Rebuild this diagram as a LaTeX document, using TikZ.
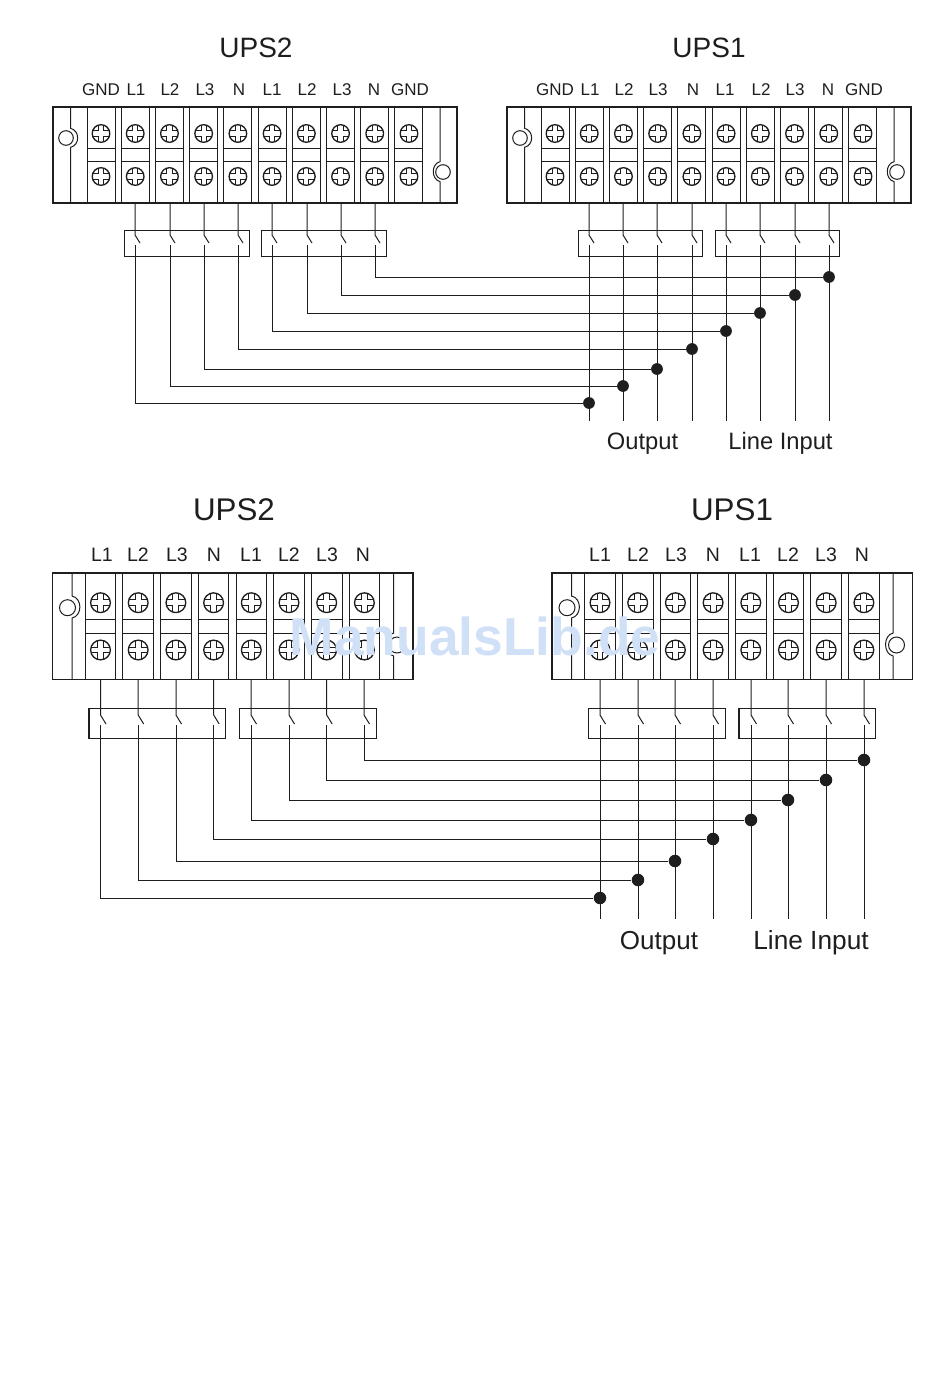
\documentclass[tikz,border=0pt]{standalone}
\usepackage{fontspec}
\setmainfont{Liberation Sans}
\definecolor{inkline}{HTML}{1E1E1E}
\definecolor{markblue}{HTML}{CFE0F7}
\tikzset{
    wire/.style={inkline, line width=.75pt},
    dot/.style={circle, fill=inkline, inner sep=0pt, minimum size=8.8pt},
    swbox/.style={draw=inkline, line width=.8pt, inner sep=0pt},
    txt/.style={inkline, inner sep=0pt},
    screwhead/.pic={
        \draw[inkline, line width=1pt] (0, 0) circle [radius=8.8];
        \foreach \a in {0, 90, 180, 270}
            \draw[inkline, line width=.75pt, rotate=\a] (2.6, 8.4) -- (2.6, 2.6) -- (8.4, 2.6);
    },
    stripten/.pic={
        \draw[inkline, line width=.8pt] (0, 0) rectangle (404, 96);
        \draw[wire] (17.7, 0) -- (17.7, 21.3) .. controls (27, 24) and (27, 38) .. (17.7, 40.3) -- (17.7, 96);
        \draw[wire] (13, 31) circle [radius=7.3];
        \draw[wire] (387, 0) -- (387, 54.7) .. controls (378, 57) and (378, 72) .. (387, 74.7) -- (387, 96);
        \draw[wire] (390, 65) circle [radius=7.3];
        \foreach \i in {0, ..., 9} {
            \begin{scope}[shift={(48 + 34.22*\i, 0)}]
                \draw[wire] (-14, 0) -- (-14, 96);
                \draw[wire] (14, 0) -- (14, 96);
                \draw[wire] (-14, 41.5) -- (14, 41.5);
                \draw[wire] (-14, 54.5) -- (14, 54.5);
                \pic at (0, 26.5) {screwhead};
                \pic at (0, 69.5) {screwhead};
            \end{scope}
        }
    },
    stripeight/.pic={
        \draw[inkline, line width=.9pt] (0, 0) rectangle (360.5, 106.5);
        \draw[wire] (19.5, 0) -- (19.5, 23) .. controls (30, 25) and (30, 43) .. (19.5, 45) -- (19.5, 106.5);
        \draw[wire] (15, 34.7) circle [radius=8];
        \draw[wire] (341.2, 0) -- (341.2, 60) .. controls (331, 62) and (331, 81) .. (341.2, 83) -- (341.2, 106.5);
        \draw[wire] (344.5, 72) circle [radius=8];
        \foreach \i in {0, ..., 7} {
            \begin{scope}[shift={(48 + 37.7*\i, 0)}]
                \draw[wire] (-15.3, 0) -- (-15.3, 106.5);
                \draw[wire] (15.3, 0) -- (15.3, 106.5);
                \draw[wire] (-15.3, 46) -- (15.3, 46);
                \draw[wire] (-15.3, 60.7) -- (15.3, 60.7);
                \pic[scale=1.12] at (0, 29.7) {screwhead};
                \pic[scale=1.12] at (0, 77) {screwhead};
            \end{scope}
        }
    },
}
\begin{document}
\begin{tikzpicture}[x=.75pt, y=-.75pt]
    \useasboundingbox (0, 0) rectangle (950, 1378);

    %% upper pair
    \node[txt, font=\fontsize{21}{21}\selectfont] (titleAtwo) at (256, 48) {UPS2};
    \node[txt, font=\fontsize{21}{21}\selectfont] (titleAone) at (709, 48) {UPS1};
    \foreach \x/\t [count=\i] in {101/GND, 136/L1, 170/L2, 205/L3, 239/N, 272/L1, 307/L2, 342/L3, 374/N, 410/GND,
                                  555/GND, 590/L1, 624/L2, 658/L3, 693/N, 725/L1, 761/L2, 795/L3, 828/N, 864/GND}
        \node[txt, font=\fontsize{12.75}{13}\selectfont] (labA\i) at (\x, 90) {\t};
    \pic at (53, 107) {stripten};
    \pic at (507, 107) {stripten};
    \foreach \x [count=\i] in {187, 324, 640.5, 777.5}
        \node[swbox, minimum width=93.4pt, minimum height=19.5pt] (swA\i) at (\x, 243.5) {};

    \foreach \n/\xa/\xb/\yh in {a/135/589/403, b/170/623/386, c/204/657/369, d/238/692/349,
                                e/272/726/331, f/307/760/313, g/341/795/295, h/375/829/277} {
        \coordinate (\n top) at (\xa, 203);
        \coordinate (\n open) at (\xa, 235);
        \coordinate (\n back) at (\xa, 245);
        \coordinate (\n turn) at (\xa, \yh);
        \node[dot] (\n dot) at (\xb, \yh) {};
        \coordinate (\n pin) at (\xb, 203);
        \coordinate (\n gap) at (\xb, 235);
        \coordinate (\n low) at (\xb, 245);
        \coordinate (\n end) at (\xb, 421);
        \draw[wire] (\n top) -- (\n open) -- ++(5, 8);
        \draw[wire] (\n back) -- (\n turn) -- (\n dot);
        \draw[wire] (\n pin) -- (\n gap) -- ++(5, 8);
        \draw[wire] (\n low) -- (\n end);
    }
    \node[txt, font=\fontsize{17.8}{18}\selectfont] (outA) at (642.5, 444) {Output};
    \node[txt, font=\fontsize{17.8}{18}\selectfont] (lineA) at (780.5, 443) {Line Input};

    %% lower pair
    \node[txt, font=\fontsize{23.5}{24}\selectfont] (titleBtwo) at (234, 510) {UPS2};
    \node[txt, font=\fontsize{23.5}{24}\selectfont] (titleBone) at (732, 510) {UPS1};
    \foreach \x/\t [count=\i] in {102/L1, 138/L2, 177/L3, 214/N, 251/L1, 289/L2, 327/L3, 363/N,
                                  600/L1, 638/L2, 676/L3, 713/N, 750/L1, 788/L2, 826/L3, 862/N}
        \node[txt, font=\fontsize{14.6}{15}\selectfont] (labB\i) at (\x, 555) {\t};
    \pic at (52.5, 573) {stripeight};
    \pic at (552, 573) {stripeight};
    \foreach \x [count=\i] in {157.3, 307.8, 656.8, 807.3}
        \node[swbox, minimum width=102.5pt, minimum height=22pt] (swB\i) at (\x, 723.5) {};

    \foreach \n/\xa/\xb/\yh in {a/100.5/600/898, b/138.2/638/880, c/176/675/861, d/213.7/713/839,
                                e/251/751/820, f/289/788/800, g/326.7/826/780, h/364/864/760} {
        \coordinate (\n topB) at (\xa, 680);
        \coordinate (\n openB) at (\xa, 715);
        \coordinate (\n backB) at (\xa, 725);
        \coordinate (\n turnB) at (\xa, \yh);
        \node[dot, minimum size=9.4pt] (\n dotB) at (\xb, \yh) {};
        \coordinate (\n pinB) at (\xb, 680);
        \coordinate (\n gapB) at (\xb, 715);
        \coordinate (\n lowB) at (\xb, 725);
        \coordinate (\n endB) at (\xb, 919);
        \draw[wire] (\n topB) -- (\n openB) -- ++(5.5, 9);
        \draw[wire] (\n backB) -- (\n turnB) -- (\n dotB);
        \draw[wire] (\n pinB) -- (\n gapB) -- ++(5.5, 9);
        \draw[wire] (\n lowB) -- (\n endB);
    }
    \node[txt, font=\fontsize{19.5}{20}\selectfont] (outB) at (659, 943) {Output};
    \node[txt, font=\fontsize{19.7}{20}\selectfont] (lineB) at (811, 943) {Line Input};

    %% pale mark over both strips
    \node[txt, text=markblue, font=\fontsize{40}{40}\selectfont\bfseries] (mark) at (475, 636) {ManualsLib.de};
\end{tikzpicture}
\end{document}
